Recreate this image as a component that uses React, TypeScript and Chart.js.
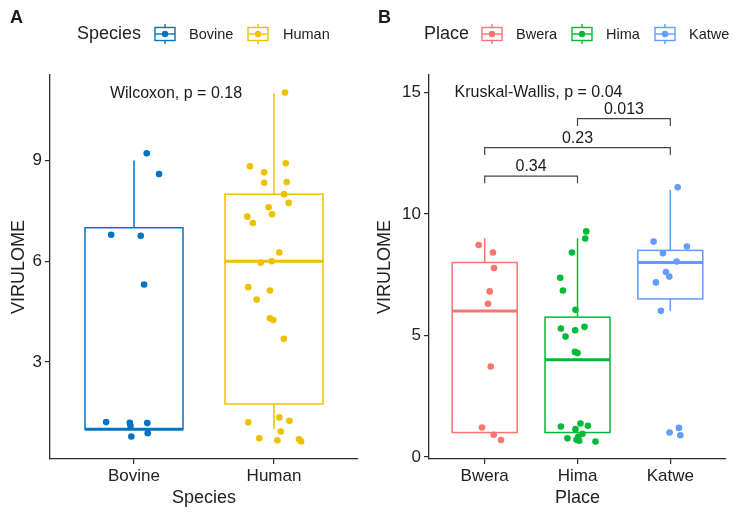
import React, { useEffect, useRef } from 'react';
import { Chart, registerables } from 'chart.js';
Chart.register(...registerables);

const FONT = '"Liberation Sans", Arial, Helvetica, sans-serif';

// ---------- Panel A data ----------
const speciesCategories = ['Bovine', 'Human'];
const speciesColors = ['#0073C2', '#EFC000'];
const bovineValues = [9.22, 8.6, 6.79, 6.76, 5.31, 1.21, 1.19, 1.1, 1.18, 0.88, 0.78];
const bovineJitter = [0.091, 0.179, -0.163, 0.048, 0.072, -0.199, -0.03, -0.025, 0.095, 0.098, -0.019];
const humanValues = [8.83, 8.92, 8.65, 8.34, 8.36, 8.0, 7.74, 7.61, 7.4, 7.33, 7.14, 6.26, 5.96, 6.0, 5.23, 5.13, 4.86, 4.3, 4.25, 3.69, 11.03, 1.2, 1.35, 1.25, 0.93, 0.73, 0.67, 0.7, 0.63];
const humanJitter = [-0.172, 0.084, -0.07, -0.07, 0.091, 0.072, 0.105, -0.038, -0.014, -0.191, -0.151, 0.038, -0.095, -0.016, -0.184, -0.029, -0.124, -0.029, -0.005, 0.07, 0.079, -0.184, 0.038, 0.11, 0.048, -0.105, 0.024, 0.179, 0.194];
// [lower whisker, Q1, median, Q3, upper whisker]
const bovineBox = [1, 1, 1, 7, 9];
const humanBox = [1, 1.75, 6, 8, 11];
const speciesTicks = [3, 6, 9];
const speciesTest = 'Wilcoxon, p = 0.18';

// ---------- Panel B data ----------
const placeCategories = ['Bwera', 'Hima', 'Katwe'];
const placeColors = ['#F8766D', '#00BA38', '#619CFF'];
const bweraValues = [8.72, 8.41, 7.77, 6.81, 6.3, 3.72, 1.21, 0.91, 0.69];
const bweraJitter = [-0.065, 0.089, 0.1, 0.054, 0.036, 0.065, -0.029, 0.097, 0.176];
const himaValues = [9.28, 8.99, 8.41, 7.37, 6.85, 6.05, 5.35, 5.28, 5.21, 4.95, 4.32, 4.27, 1.25, 1.14, 1.37, 1.28, 0.76, 0.82, 0.66, 0.95, 0.63, 0.7];
const himaJitter = [0.094, 0.083, -0.06, -0.186, -0.157, -0.022, 0.075, -0.179, -0.025, -0.129, -0.028, 0, -0.179, -0.022, 0.032, 0.112, -0.108, 0.008, 0.018, 0.054, 0.194, -0.011];
const katweValues = [11.1, 8.86, 8.66, 8.38, 8.04, 7.61, 7.42, 7.18, 6.01, 1.0, 1.19, 0.89];
const katweJitter = [0.079, -0.18, 0.179, -0.08, 0.068, -0.047, -0.011, -0.155, -0.101, -0.008, 0.093, 0.108];
const bweraBox = [1, 1, 6, 8, 9];
const himaBox = [1, 1, 4, 5.75, 9];
const katweBox = [6, 6.5, 8, 8.5, 11];
const placeTicks = [0, 5, 10, 15];
const placeTest = 'Kruskal-Wallis, p = 0.04';
const bracketFrom = [0, 0, 1];
const bracketTo = [1, 2, 2];
const bracketY = [11.56, 12.73, 13.92];
const bracketLabels = ['0.34', '0.23', '0.013'];

type Group = { name: string; color: string; values: number[]; jitter: number[]; box: number[] };
type Panel = {
  letter: string;
  groups: Group[];
  yMin: number;
  yMax: number;
  yTicks: number[];
  xTitle: string;
  legendTitle: string;
  legendTitleX: number;
  legendIconX: number[];
  legendLabelX: number[];
  yAxisWidth: number;
  yTitlePad: number;
  test: string;
  testX: number;
  testY: number;
  brackets?: { from: number; to: number; y: number; label: string }[];
};

const panelA: Panel = {
  letter: 'A',
  groups: [
    { name: speciesCategories[0], color: speciesColors[0], values: bovineValues, jitter: bovineJitter, box: bovineBox },
    { name: speciesCategories[1], color: speciesColors[1], values: humanValues, jitter: humanJitter, box: humanBox },
  ],
  yMin: 0.11,
  yMax: 11.55,
  yTicks: speciesTicks,
  xTitle: 'Species',
  legendTitle: 'Species',
  legendTitleX: 77,
  legendIconX: [155, 248],
  legendLabelX: [189, 283],
  yAxisWidth: 50,
  yTitlePad: 8,
  test: speciesTest,
  testX: 0.3,
  testY: 11,
};

const panelB: Panel = {
  letter: 'B',
  groups: [
    { name: placeCategories[0], color: placeColors[0], values: bweraValues, jitter: bweraJitter, box: bweraBox },
    { name: placeCategories[1], color: placeColors[1], values: himaValues, jitter: himaJitter, box: himaBox },
    { name: placeCategories[2], color: placeColors[2], values: katweValues, jitter: katweJitter, box: katweBox },
  ],
  yMin: -0.09,
  yMax: 15.72,
  yTicks: placeTicks,
  xTitle: 'Place',
  legendTitle: 'Place',
  legendTitleX: 56,
  legendIconX: [114, 204, 287],
  legendLabelX: [148, 238, 321],
  yAxisWidth: 61,
  yTitlePad: 6.5,
  test: placeTest,
  testX: 0.58,
  testY: 15,
  brackets: bracketFrom.map((f, i) => ({ from: f, to: bracketTo[i], y: bracketY[i], label: bracketLabels[i] })),
};

const BOX_WIDTH = 0.7;
const AXIS_COLOR = '#2b2b2b';

function makeChart(canvas: HTMLCanvasElement, p: Panel) {
  const n = p.groups.length;
  const datasets = p.groups.map((g, i) => ({
    label: g.name,
    data: g.values.map((v, j) => ({ x: i + g.jitter[j], y: v })),
    backgroundColor: g.color,
    borderColor: g.color,
    pointRadius: 3.3,
    pointBorderWidth: 0,
    pointHoverRadius: 3.3,
  }));

  const boxPlugin = {
    id: 'boxes' + p.letter,
    beforeDatasetsDraw(chart: any) {
      const { ctx, scales } = chart;
      const xs = scales.x;
      const ys = scales.y;
      p.groups.forEach((g, i) => {
        const [lo, q1, med, q3, hi] = g.box;
        const xl = xs.getPixelForValue(i - BOX_WIDTH / 2);
        const xr = xs.getPixelForValue(i + BOX_WIDTH / 2);
        const xc = xs.getPixelForValue(i);
        ctx.save();
        ctx.strokeStyle = g.color;
        ctx.lineWidth = 1.5;
        // whiskers
        ctx.beginPath();
        ctx.moveTo(xc, ys.getPixelForValue(q3));
        ctx.lineTo(xc, ys.getPixelForValue(hi));
        ctx.moveTo(xc, ys.getPixelForValue(q1));
        ctx.lineTo(xc, ys.getPixelForValue(lo));
        ctx.stroke();
        // box
        const yt = ys.getPixelForValue(q3);
        const yb = ys.getPixelForValue(q1);
        ctx.fillStyle = '#ffffff';
        ctx.fillRect(xl, yt, xr - xl, yb - yt);
        ctx.strokeRect(xl, yt, xr - xl, yb - yt);
        // median
        ctx.lineWidth = 3;
        ctx.beginPath();
        const ym = ys.getPixelForValue(med);
        ctx.moveTo(xl, ym);
        ctx.lineTo(xr, ym);
        ctx.stroke();
        ctx.restore();
      });
    },
    afterDraw(chart: any) {
      const { ctx, scales } = chart;
      const xs = scales.x;
      const ys = scales.y;
      ctx.save();
      ctx.fillStyle = '#1a1a1a';
      ctx.textBaseline = 'middle';
      // panel letter
      ctx.font = `bold 18px ${FONT}`;
      ctx.textAlign = 'left';
      ctx.fillText(p.letter, 10, 18);
      // legend
      ctx.font = `18px ${FONT}`;
      ctx.fillStyle = '#222';
      ctx.fillText(p.legendTitle, p.legendTitleX, 34);
      p.groups.forEach((g, i) => {
        const x = p.legendIconX[i];
        const y = 34;
        ctx.strokeStyle = g.color;
        ctx.lineWidth = 1.4;
        ctx.beginPath();
        ctx.moveTo(x + 10, y - 10);
        ctx.lineTo(x + 10, y + 10);
        ctx.stroke();
        ctx.fillStyle = '#fff';
        ctx.fillRect(x, y - 6.5, 20, 13);
        ctx.strokeRect(x, y - 6.5, 20, 13);
        ctx.beginPath();
        ctx.moveTo(x, y);
        ctx.lineTo(x + 20, y);
        ctx.stroke();
        ctx.fillStyle = g.color;
        ctx.beginPath();
        ctx.arc(x + 10, y, 3.2, 0, Math.PI * 2);
        ctx.fill();
        ctx.fillStyle = '#222';
        ctx.font = `14.5px ${FONT}`;
        ctx.fillText(g.name, p.legendLabelX[i], y + 1);
      });
      // test label
      ctx.font = `16px ${FONT}`;
      ctx.textAlign = 'center';
      ctx.fillStyle = '#1a1a1a';
      ctx.fillText(p.test, xs.getPixelForValue(p.testX), ys.getPixelForValue(p.testY));
      // brackets
      (p.brackets || []).forEach((b) => {
        const x1 = xs.getPixelForValue(b.from);
        const x2 = xs.getPixelForValue(b.to);
        const y = ys.getPixelForValue(b.y);
        const yd = ys.getPixelForValue(b.y - 0.3);
        ctx.strokeStyle = '#444';
        ctx.lineWidth = 1.2;
        ctx.beginPath();
        ctx.moveTo(x1, yd);
        ctx.lineTo(x1, y);
        ctx.lineTo(x2, y);
        ctx.lineTo(x2, yd);
        ctx.stroke();
        ctx.fillText(b.label, (x1 + x2) / 2, y - 9);
      });
      ctx.restore();
    },
  };

  return new Chart(canvas, {
    type: 'scatter',
    data: { datasets },
    options: {
      animation: false,
      responsive: false,
      maintainAspectRatio: false,
      devicePixelRatio: 1,
      layout: { padding: { top: 75, right: 10, left: 0, bottom: 0 } },
      plugins: { legend: { display: false }, tooltip: { enabled: false } },
      events: [],
      scales: {
        x: {
          type: 'linear',
          min: -0.6,
          max: n - 1 + 0.6,
          afterBuildTicks: (s: any) => {
            s.ticks = p.groups.map((_, i) => ({ value: i }));
          },
          afterFit: (s: any) => {
            s.height = 53;
          },
          ticks: {
            callback: (_v: any, idx: number) => p.groups[idx]?.name ?? '',
            font: { family: FONT, size: 17 },
            color: '#222',
            padding: 2,
            autoSkip: false,
            maxRotation: 0,
          },
          grid: { display: true, drawOnChartArea: false, drawTicks: true, tickLength: 5, color: AXIS_COLOR, lineWidth: 1.2 },
          border: { display: true, color: AXIS_COLOR, width: 1.3 },
          title: { display: true, text: p.xTitle, font: { family: FONT, size: 18 }, color: '#222', padding: { top: 0, bottom: 3 } },
        },
        y: {
          type: 'linear',
          min: p.yMin,
          max: p.yMax,
          afterBuildTicks: (s: any) => {
            s.ticks = p.yTicks.map((v) => ({ value: v }));
          },
          afterFit: (s: any) => {
            s.width = p.yAxisWidth;
          },
          ticks: {
            font: { family: FONT, size: 17 },
            color: '#222',
            padding: 3,
          },
          grid: { display: true, drawOnChartArea: false, drawTicks: true, tickLength: 5, color: AXIS_COLOR, lineWidth: 1.2 },
          border: { display: true, color: AXIS_COLOR, width: 1.3 },
          title: { display: true, text: 'VIRULOME', font: { family: FONT, size: 18 }, color: '#222', padding: { top: p.yTitlePad, bottom: 0 } },
        },
      },
    } as any,
    plugins: [boxPlugin],
  });
}

function PanelChart({ panel, left }: { panel: Panel; left: number }) {
  const ref = useRef<HTMLCanvasElement>(null);
  useEffect(() => {
    if (!ref.current) return;
    const c = makeChart(ref.current, panel);
    return () => c.destroy();
  }, [panel]);
  return (
    <canvas
      ref={ref}
      width={368}
      height={512}
      style={{ position: 'absolute', left, top: 0, width: 368, height: 512 }}
    />
  );
}

export default function App() {
  return (
    <div style={{ position: 'absolute', left: 0, top: 0, width: 736, height: 512, background: '#ffffff', overflow: 'hidden' }}>
      <PanelChart panel={panelA} left={0} />
      <PanelChart panel={panelB} left={368} />
    </div>
  );
}
